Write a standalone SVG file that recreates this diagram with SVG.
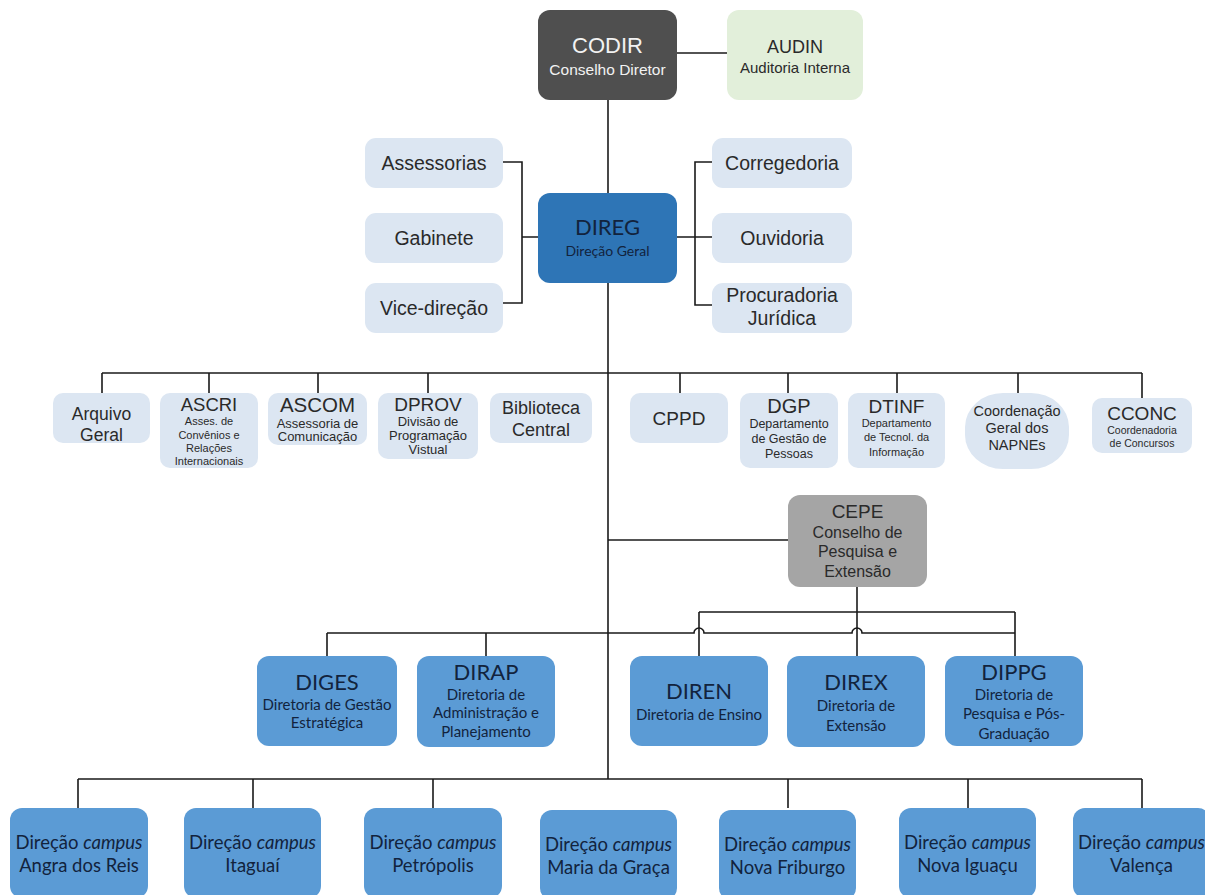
<svg xmlns="http://www.w3.org/2000/svg" width="1205" height="895" viewBox="0 0 1205 895">
<style>
.a{font-family:"Liberation Sans",Arial,sans-serif;text-anchor:middle;fill:#2a2a2a}
.c{font-family:Lato,"Noto Sans",sans-serif;text-anchor:middle;fill:#12233d}
.lb{fill:#dce6f2}
.bl{fill:#5b9bd5}
.ln{fill:none;stroke:#1a1a1a;stroke-width:1.6}
</style>
<rect width="1205" height="895" fill="#ffffff"/>
<g id="connectors" class="ln">
<path d="M677 53H727"/>
<path d="M608 100V193"/>
<path d="M503 162H522V303H503M522 237H538"/>
<path d="M712 162H695V305H712M677 237H712"/>
<path d="M608 283V779"/>
<path d="M102 373H1142"/>
<path d="M102 373V393M209 373V393M318 373V393M428 373V393M680 373V393M788 373V393M897 373V393M1018 373V393M1142 373V398"/>
<path d="M608 540H788"/>
<path d="M857 587V656"/>
<path d="M699 612H1015M699 612V656M1015 612V656"/>
<path d="M327 633H694A5 5 0 0 1 704 633H852A5 5 0 0 1 862 633H1015"/>
<path d="M327 633V656M486 633V656"/>
<path d="M78 779H1142M78 779V808M253 779V808M433 779V808M788 779V808M968 779V808M1142 779V808"/>
</g>
<g id="codir"><rect x="538" y="10" width="139" height="90" rx="12" fill="#4f4f4f"/><text class="a" x="607.5" y="53" font-size="22" style="fill:#f2f2f2">CODIR</text><text class="a" x="607.5" y="75" font-size="15.5" style="fill:#f2f2f2">Conselho Diretor</text></g>
<g id="audin"><rect x="727" y="10" width="136" height="90" rx="12" fill="#e2efda"/><text class="a" x="795" y="53" font-size="18">AUDIN</text><text class="a" x="795" y="73" font-size="15">Auditoria Interna</text></g>
<g id="assessorias"><rect class="lb" x="365" y="138" width="138" height="50" rx="11"/><text class="a" x="434" y="169.5" font-size="19.5">Assessorias</text></g>
<g id="gabinete"><rect class="lb" x="365" y="213" width="138" height="50" rx="11"/><text class="a" x="434" y="244.5" font-size="19.5">Gabinete</text></g>
<g id="vicedirecao"><rect class="lb" x="365" y="283" width="138" height="50" rx="11"/><text class="a" x="434" y="314.5" font-size="19.5">Vice-direção</text></g>
<g id="corregedoria"><rect class="lb" x="712" y="138" width="140" height="50" rx="11"/><text class="a" x="782" y="169.5" font-size="19.5">Corregedoria</text></g>
<g id="ouvidoria"><rect class="lb" x="712" y="213" width="140" height="50" rx="11"/><text class="a" x="782" y="244.5" font-size="19.5">Ouvidoria</text></g>
<g id="procuradoria"><rect class="lb" x="712" y="283" width="140" height="50" rx="11"/><text class="a" x="782" y="302" font-size="19.5">Procuradoria</text><text class="a" x="782" y="325" font-size="19.5">Jurídica</text></g>
<g id="direg"><rect x="538" y="193" width="139" height="90" rx="12" fill="#2e75b6"/><text class="c" x="607.5" y="235" font-size="22">DIREG</text><text class="c" x="607.5" y="256" font-size="14">Direção Geral</text></g>
<g id="arquivo"><rect class="lb" x="53" y="393" width="97" height="50" rx="10"/><text class="a" x="101.5" y="420" font-size="17.5">Arquivo</text><text class="a" x="101.5" y="441" font-size="17.5">Geral</text></g>
<g id="ascri"><rect class="lb" x="160" y="393" width="98" height="75" rx="10"/><text class="a" x="209" y="411" font-size="18.5">ASCRI</text><text class="a" x="209" y="425" font-size="11">Asses. de</text><text class="a" x="209" y="439" font-size="11">Convênios e</text><text class="a" x="209" y="452" font-size="11">Relações</text><text class="a" x="209" y="465" font-size="11">Internacionais</text></g>
<g id="ascom"><rect class="lb" x="268" y="393" width="99" height="52" rx="10"/><text class="a" x="317.5" y="412" font-size="20.5">ASCOM</text><text class="a" x="317.5" y="428" font-size="13">Assessoria de</text><text class="a" x="317.5" y="441" font-size="13">Comunicação</text></g>
<g id="dprov"><rect class="lb" x="378" y="393" width="100" height="66" rx="10"/><text class="a" x="428" y="411" font-size="19">DPROV</text><text class="a" x="428" y="426" font-size="13">Divisão de</text><text class="a" x="428" y="440" font-size="13">Programação</text><text class="a" x="428" y="454" font-size="13">Vistual</text></g>
<g id="biblioteca"><rect class="lb" x="490" y="393" width="102" height="50" rx="10"/><text class="a" x="541" y="414" font-size="18">Biblioteca</text><text class="a" x="541" y="436" font-size="18">Central</text></g>
<g id="cppd"><rect class="lb" x="630" y="393" width="98" height="50" rx="10"/><text class="a" x="679" y="425" font-size="19">CPPD</text></g>
<g id="dgp"><rect class="lb" x="740" y="393" width="98" height="75" rx="10"/><text class="a" x="789" y="413" font-size="20">DGP</text><text class="a" x="789" y="428" font-size="12.5">Departamento</text><text class="a" x="789" y="443" font-size="12.5">de Gestão de</text><text class="a" x="789" y="458" font-size="12.5">Pessoas</text></g>
<g id="dtinf"><rect class="lb" x="848" y="393" width="97" height="75" rx="10"/><text class="a" x="896.5" y="413" font-size="19">DTINF</text><text class="a" x="896.5" y="427" font-size="11">Departamento</text><text class="a" x="896.5" y="441" font-size="11">de Tecnol. da</text><text class="a" x="896.5" y="456" font-size="11">Informação</text></g>
<g id="napnes"><rect class="lb" x="965" y="393" width="104" height="76" rx="38" ry="34"/><text class="a" x="1017" y="416" font-size="14.5">Coordenação</text><text class="a" x="1017" y="433" font-size="14.5">Geral dos</text><text class="a" x="1017" y="450" font-size="14.5">NAPNEs</text></g>
<g id="cconc"><rect class="lb" x="1092" y="398" width="100" height="55" rx="10"/><text class="a" x="1142" y="420" font-size="19">CCONC</text><text class="a" x="1142" y="434" font-size="10.5">Coordenadoria</text><text class="a" x="1142" y="447" font-size="10.5">de Concursos</text></g>
<g id="cepe"><rect x="788" y="495" width="139" height="92" rx="12" fill="#a5a5a5"/><text class="a" x="857.5" y="518" font-size="19">CEPE</text><text class="a" x="857.5" y="538" font-size="16">Conselho de</text><text class="a" x="857.5" y="557" font-size="16">Pesquisa e</text><text class="a" x="857.5" y="577" font-size="16">Extensão</text></g>
<g id="diges"><rect class="bl" x="257" y="656" width="140" height="90" rx="12"/><text class="c" x="327" y="690" font-size="22">DIGES</text><text class="c" x="327" y="710" font-size="15">Diretoria de Gestão</text><text class="c" x="327" y="728" font-size="15">Estratégica</text></g>
<g id="dirap"><rect class="bl" x="417" y="656" width="138" height="91" rx="12"/><text class="c" x="486" y="680" font-size="22">DIRAP</text><text class="c" x="486" y="700" font-size="15">Diretoria de</text><text class="c" x="486" y="718" font-size="15">Administração e</text><text class="c" x="486" y="737" font-size="15">Planejamento</text></g>
<g id="diren"><rect class="bl" x="630" y="656" width="138" height="90" rx="12"/><text class="c" x="699" y="699" font-size="22">DIREN</text><text class="c" x="699" y="720" font-size="15">Diretoria de Ensino</text></g>
<g id="direx"><rect class="bl" x="787" y="656" width="138" height="91" rx="12"/><text class="c" x="856" y="690" font-size="22">DIREX</text><text class="c" x="856" y="711" font-size="15">Diretoria de</text><text class="c" x="856" y="731" font-size="15">Extensão</text></g>
<g id="dippg"><rect class="bl" x="945" y="656" width="138" height="90" rx="12"/><text class="c" x="1014" y="680" font-size="22">DIPPG</text><text class="c" x="1014" y="700" font-size="15">Diretoria de</text><text class="c" x="1014" y="719" font-size="15">Pesquisa e Pós-</text><text class="c" x="1014" y="739" font-size="15">Graduação</text></g>
<g id="angra"><rect class="bl" x="10" y="808" width="138" height="90" rx="12"/><text class="c" x="79" y="849" font-size="18.5">Direção <tspan font-style="italic">campus</tspan></text><text class="c" x="79" y="872" font-size="18.5">Angra dos Reis</text></g>
<g id="itaguai"><rect class="bl" x="184" y="808" width="137" height="90" rx="12"/><text class="c" x="252.5" y="849" font-size="18.5">Direção <tspan font-style="italic">campus</tspan></text><text class="c" x="252.5" y="872" font-size="18.5">Itaguaí</text></g>
<g id="petropolis"><rect class="bl" x="364" y="808" width="138" height="90" rx="12"/><text class="c" x="433" y="849" font-size="18.5">Direção <tspan font-style="italic">campus</tspan></text><text class="c" x="433" y="872" font-size="18.5">Petrópolis</text></g>
<g id="mariadagraca"><rect class="bl" x="540" y="810" width="137" height="90" rx="12"/><text class="c" x="608.5" y="851" font-size="18.5">Direção <tspan font-style="italic">campus</tspan></text><text class="c" x="608.5" y="874" font-size="18.5">Maria da Graça</text></g>
<g id="novafriburgo"><rect class="bl" x="719" y="810" width="137" height="90" rx="12"/><text class="c" x="787.5" y="851" font-size="18.5">Direção <tspan font-style="italic">campus</tspan></text><text class="c" x="787.5" y="874" font-size="18.5">Nova Friburgo</text></g>
<g id="novaiguacu"><rect class="bl" x="899" y="808" width="137" height="90" rx="12"/><text class="c" x="967.5" y="849" font-size="18.5">Direção <tspan font-style="italic">campus</tspan></text><text class="c" x="967.5" y="872" font-size="18.5">Nova Iguaçu</text></g>
<g id="valenca"><rect class="bl" x="1073" y="808" width="137" height="90" rx="12"/><text class="c" x="1141.5" y="849" font-size="18.5">Direção <tspan font-style="italic">campus</tspan></text><text class="c" x="1141.5" y="872" font-size="18.5">Valença</text></g>
</svg>
